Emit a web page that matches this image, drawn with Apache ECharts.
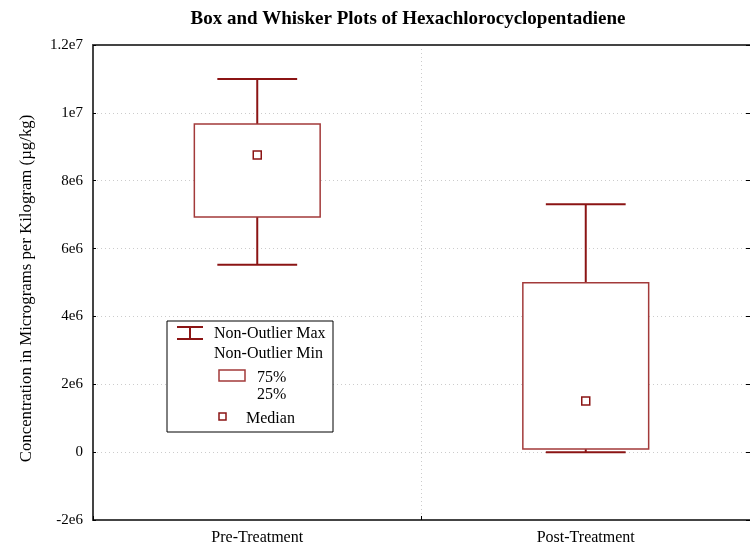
<!DOCTYPE html>
<html>
<head>
<meta charset="utf-8">
<style>
  html, body { margin: 0; padding: 0; background: #fff; }
  #main { width: 750px; height: 549px; }
</style>
<script src="https://cdn.jsdelivr.net/npm/echarts@6/dist/echarts.min.js"></script>
</head>
<body>
<div id="main"></div>
<script>
var categories = ["Pre-Treatment", "Post-Treatment"]
var whiskerMin = [5.52e6, 0.0]
var q1 = [6.93e6, 0.09e6]
var median = [8.76e6, 1.51e6]
var q3 = [9.67e6, 4.99e6]
var whiskerMax = [11.0e6, 7.31e6]
var yTicks = { min: -2e6, max: 1.2e7, interval: 2e6 }

var boxColor = "#8b1414"
var font = "Liberation Serif"

var chart = echarts.init(document.querySelector("#main"))

var boxData = categories.map(function (c, i) {
    return [i, whiskerMin[i], q1[i], median[i], q3[i], whiskerMax[i]]
})

function tickLabel(v) {
    if (v === 0) return "0"
    var e = Math.floor(Math.log10(Math.abs(v)))
    var m = v / Math.pow(10, e)
    return (Math.round(m * 10) / 10) + "e" + e
}

function renderBox(params, api) {
    var x = api.value(0)
    var pMin = api.coord([x, api.value(1)])
    var pQ1 = api.coord([x, api.value(2)])
    var pMed = api.coord([x, api.value(3)])
    var pQ3 = api.coord([x, api.value(4)])
    var pMax = api.coord([x, api.value(5)])
    var band = api.size([1, 0])[0]
    var boxW = band * 0.383
    var capW = band * 0.243
    var cx = pMed[0]
    var line = { stroke: boxColor, lineWidth: 2 }
    return {
        type: "group",
        children: [
            { type: "line", shape: { x1: cx, y1: pMax[1], x2: cx, y2: pQ3[1] }, style: line },
            { type: "line", shape: { x1: cx - capW / 2, y1: pMax[1], x2: cx + capW / 2, y2: pMax[1] }, style: line },
            { type: "line", shape: { x1: cx, y1: pQ1[1], x2: cx, y2: pMin[1] }, style: line },
            { type: "line", shape: { x1: cx - capW / 2, y1: pMin[1], x2: cx + capW / 2, y2: pMin[1] }, style: line },
            { type: "rect", shape: { x: cx - boxW / 2, y: pQ3[1], width: boxW, height: pQ1[1] - pQ3[1] },
              style: { fill: "#fff", stroke: "#a33a3a", lineWidth: 1.5 } },
            { type: "rect", shape: { x: cx - 4, y: pMed[1] - 4, width: 8, height: 8 },
              style: { fill: "#fff", stroke: boxColor, lineWidth: 1.5 } }
        ]
    }
}

function legendLabel(text, x, y) {
    return { type: "text", x: x, y: y, z: 101,
             style: { text: text, fill: "#000", font: "16px " + font, verticalAlign: "middle" } }
}

var option = {
    animation: false,
    backgroundColor: "#fff",
    title: {
        text: "Box and Whisker Plots of Hexachlorocyclopentadiene",
        left: 403,
        textAlign: "center",
        top: 5,
        textStyle: { fontFamily: font, fontWeight: "bold", fontSize: 19, color: "#000" }
    },
    grid: { left: 93, right: 0, top: 45, bottom: 29 },
    xAxis: [{
        type: "category",
        data: categories,
        boundaryGap: true,
        axisLine: { onZero: false, lineStyle: { color: "#444", width: 2 } },
        axisTick: { show: true, inside: true, length: 4, lineStyle: { color: "#000" } },
        axisLabel: { fontFamily: font, fontSize: 16, color: "#000", margin: 10 },
        splitLine: { show: true, lineStyle: { color: "#ccc", type: [1, 3] } }
    }, {
        type: "category",
        position: "top",
        data: categories,
        axisLine: { onZero: false, lineStyle: { color: "#444", width: 2 } },
        axisTick: { show: false },
        axisLabel: { show: false }
    }],
    yAxis: [{
        type: "value",
        min: yTicks.min,
        max: yTicks.max,
        interval: yTicks.interval,
        name: "Concentration in Micrograms per Kilogram (\u00b5g/kg)",
        nameLocation: "middle",
        nameGap: 58,
        nameTextStyle: { fontFamily: font, fontSize: 16.8, color: "#000", padding: [0, 12, 0, 0] },
        axisLine: { show: true, onZero: false, lineStyle: { color: "#444", width: 2 } },
        axisTick: { show: true, inside: true, length: 3, lineStyle: { color: "#000" } },
        axisLabel: { fontFamily: font, fontSize: 15, color: "#000", margin: 10, formatter: tickLabel },
        splitLine: { show: true, lineStyle: { color: "#ccc", type: [1, 3] } }
    }, {
        type: "value",
        position: "right",
        min: yTicks.min,
        max: yTicks.max,
        interval: yTicks.interval,
        axisLine: { show: false },
        axisTick: { show: true, inside: true, length: 4, lineStyle: { color: "#000" } },
        axisLabel: { show: false },
        splitLine: { show: false }
    }],
    series: [{
        type: "custom",
        renderItem: renderBox,
        data: boxData,
        encode: { x: 0, y: [1, 2, 3, 4, 5] }
    }],
    graphic: [
        { type: "rect", shape: { x: 167, y: 321, width: 166, height: 111 },
          style: { fill: "#fff", stroke: "#000", lineWidth: 1 }, z: 100 },
        { type: "line", shape: { x1: 177, y1: 327, x2: 203, y2: 327 }, style: { stroke: boxColor, lineWidth: 2 }, z: 101 },
        { type: "line", shape: { x1: 190, y1: 327, x2: 190, y2: 339 }, style: { stroke: boxColor, lineWidth: 2 }, z: 101 },
        { type: "line", shape: { x1: 177, y1: 339, x2: 203, y2: 339 }, style: { stroke: boxColor, lineWidth: 2 }, z: 101 },
        legendLabel("Non-Outlier Max", 214, 334),
        legendLabel("Non-Outlier Min", 214, 354),
        { type: "rect", shape: { x: 219, y: 370, width: 26, height: 11 },
          style: { fill: "#fff", stroke: "#a33a3a", lineWidth: 1.5 }, z: 101 },
        legendLabel("75%", 257, 378),
        legendLabel("25%", 257, 395),
        { type: "rect", shape: { x: 219, y: 413, width: 7, height: 7 },
          style: { fill: "#fff", stroke: boxColor, lineWidth: 1.5 }, z: 101 },
        legendLabel("Median", 246, 419)
    ]
}

chart.setOption(option)
</script>
</body>
</html>
